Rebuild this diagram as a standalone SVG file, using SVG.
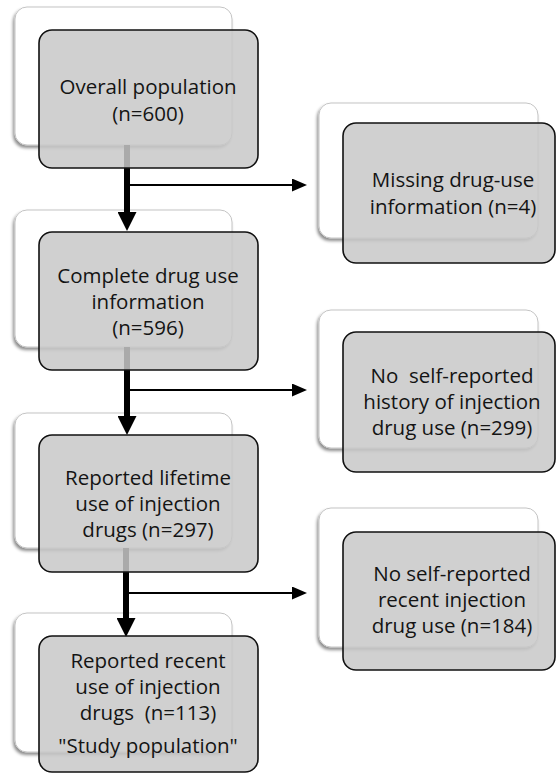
<svg xmlns="http://www.w3.org/2000/svg" width="556" height="774" viewBox="0 0 556 774">
  <style>
    .card { fill: #ffffff; stroke: #c4c4c4; stroke-width: 1; filter: url(#shadow); }
    .box { fill: #c8c8c8; fill-opacity: 0.85; stroke: #111111; stroke-width: 1.6; }
    .label { font-family: "Open Sans", "Liberation Sans", sans-serif; font-size: 20.5px; fill: #141414; text-anchor: middle; }
    .trunk { stroke: #000000; stroke-width: 6; fill: none; }
    .branch { stroke: #000000; stroke-width: 2; fill: none; }
  </style>
  <defs>
    <filter id="shadow" x="-10%" y="-10%" width="120%" height="125%">
      <feDropShadow dx="-1.5" dy="2.5" stdDeviation="1.5" flood-color="#000000" flood-opacity="0.45"/>
    </filter>
    <marker id="headBig" markerUnits="userSpaceOnUse" markerWidth="19" markerHeight="19" refX="0" refY="9.5" orient="auto">
      <path d="M0,0 L19,9.5 L0,19 Z" fill="#000000"/>
    </marker>
    <marker id="headSmall" markerUnits="userSpaceOnUse" markerWidth="15" markerHeight="13" refX="0" refY="6.5" orient="auto">
      <path d="M0,0 L15,6.5 L0,13 Z" fill="#000000"/>
    </marker>
  </defs>

  <!-- back cards sit under the connectors -->
  <g id="cards">
    <rect class="card" x="15" y="7" width="217" height="138" rx="12"/>
    <rect class="card" x="15" y="210" width="217" height="137" rx="12"/>
    <rect class="card" x="15" y="413" width="217" height="135" rx="12"/>
    <rect class="card" x="15" y="613" width="217" height="139" rx="12"/>
    <rect class="card" x="319" y="103" width="219" height="135" rx="12"/>
    <rect class="card" x="319" y="310" width="219" height="138" rx="12"/>
    <rect class="card" x="319" y="508" width="219" height="139" rx="12"/>
  </g>

  <g id="connectors">
    <line class="trunk" x1="127" y1="145" x2="127" y2="212" marker-end="url(#headBig)"/>
    <line class="branch" x1="130" y1="185" x2="292" y2="185" marker-end="url(#headSmall)"/>
    <line class="trunk" x1="127" y1="347" x2="127" y2="416" marker-end="url(#headBig)"/>
    <line class="branch" x1="130" y1="390" x2="292" y2="390" marker-end="url(#headSmall)"/>
    <line class="trunk" x1="126" y1="548" x2="126" y2="618" marker-end="url(#headBig)"/>
    <line class="branch" x1="129" y1="593" x2="292" y2="593" marker-end="url(#headSmall)"/>
  </g>

  <g id="overall">
    <rect class="box" x="39" y="30" width="219" height="138" rx="13"/>
    <text class="label" x="148" y="94">Overall population</text>
    <text class="label" x="148" y="121">(n=600)</text>
  </g>

  <g id="complete">
    <rect class="box" x="39" y="232" width="219" height="138" rx="13"/>
    <text class="label" x="148" y="283">Complete drug use</text>
    <text class="label" x="148" y="309">information</text>
    <text class="label" x="148" y="335">(n=596)</text>
  </g>

  <g id="lifetime">
    <rect class="box" x="39" y="435" width="219" height="137" rx="13"/>
    <text class="label" x="148" y="485">Reported lifetime</text>
    <text class="label" x="148" y="511">use of injection</text>
    <text class="label" x="148" y="537">drugs (n=297)</text>
  </g>

  <g id="recent">
    <rect class="box" x="39" y="636" width="219" height="136" rx="13"/>
    <text class="label" x="148" y="668">Reported recent</text>
    <text class="label" x="148" y="694">use of injection</text>
    <text class="label" x="148" y="720" xml:space="preserve">drugs  (n=113)</text>
    <text class="label" x="148" y="753">"Study population"</text>
  </g>

  <g id="missing">
    <rect class="box" x="343" y="123" width="212" height="140" rx="13"/>
    <text class="label" x="453" y="187">Missing drug-use</text>
    <text class="label" x="453" y="214">information (n=4)</text>
  </g>

  <g id="no-history">
    <rect class="box" x="343" y="332" width="212" height="140" rx="13"/>
    <text class="label" x="452" y="383" xml:space="preserve">No  self-reported</text>
    <text class="label" x="452" y="409">history of injection</text>
    <text class="label" x="452" y="435">drug use (n=299)</text>
  </g>

  <g id="no-recent">
    <rect class="box" x="343" y="532" width="212" height="138" rx="13"/>
    <text class="label" x="452" y="581">No self-reported</text>
    <text class="label" x="452" y="607">recent injection</text>
    <text class="label" x="452" y="633">drug use (n=184)</text>
  </g>
</svg>
